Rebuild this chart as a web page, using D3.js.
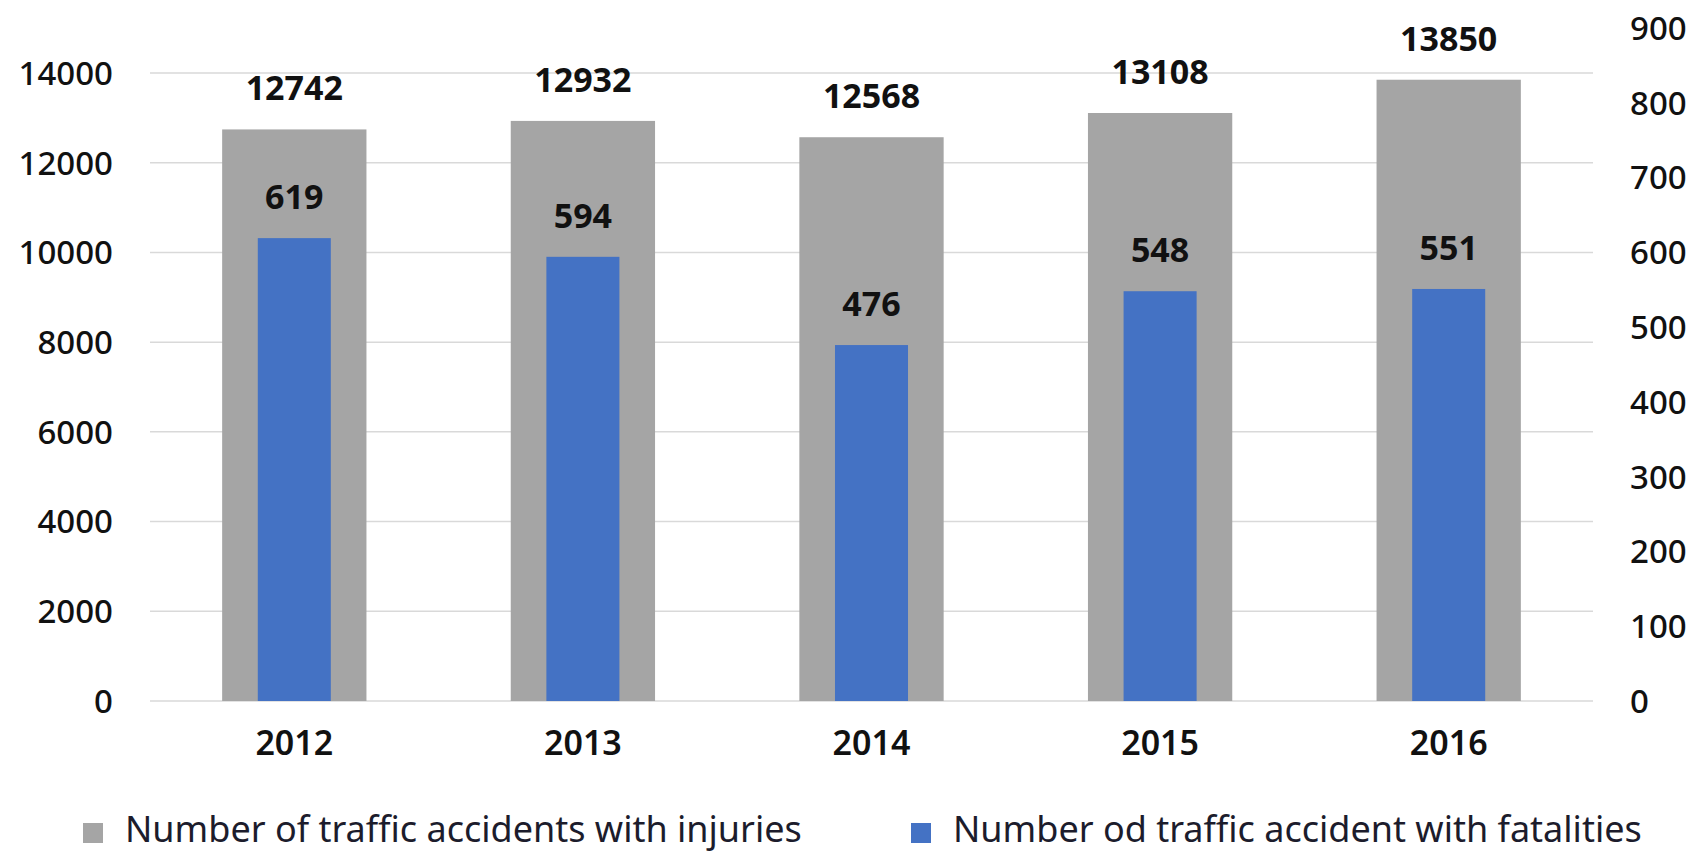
<!DOCTYPE html>
<html>
<head>
<meta charset="utf-8">
<script src="https://cdn.jsdelivr.net/npm/d3@7"></script>
<style>
  html, body { margin: 0; padding: 0; background: #fff; }
  svg { display: block; }
</style>
</head>
<body>
<svg id="chart" width="1695" height="853"></svg>
<script>
const years = ["2012", "2013", "2014", "2015", "2016"];
const injuries = [12742, 12932, 12568, 13108, 13850];
const fatalities = [619, 594, 476, 548, 551];
const leftTicks = [0, 2000, 4000, 6000, 8000, 10000, 12000, 14000];
const rightTicks = [0, 100, 200, 300, 400, 500, 600, 700, 800, 900];
const legendLabels = ["Number of traffic accidents with injuries", "Number od traffic accident with fatalities"];

const svg = d3.select("#chart");
const font = "'Noto Sans', 'Open Sans', sans-serif";

const x = d3.scaleBand().domain(years).range([150, 1593]).paddingInner(0).paddingOuter(0);
const yL = d3.scaleLinear().domain([0, 14000]).range([701, 73]);
const yR = d3.scaleLinear().domain([0, 900]).range([701, 28]);

// gridlines
svg.append("g").selectAll("line").data(leftTicks).join("line")
  .attr("x1", 150).attr("x2", 1593)
  .attr("y1", d => yL(d)).attr("y2", d => yL(d))
  .attr("stroke", "#d9d9d9").attr("stroke-width", 1.5);

// left axis labels
svg.append("g").selectAll("text").data(leftTicks).join("text")
  .attr("x", 113).attr("y", d => yL(d)).attr("dy", "0.36em")
  .attr("text-anchor", "end")
  .attr("font-family", font).attr("font-size", 33).attr("font-weight", 500)
  .attr("fill", "#111").text(d => d);

// right axis labels
svg.append("g").selectAll("text").data(rightTicks).join("text")
  .attr("x", 1630).attr("y", d => yR(d)).attr("dy", "0.36em")
  .attr("text-anchor", "start")
  .attr("font-family", font).attr("font-size", 33).attr("font-weight", 500)
  .attr("fill", "#111").text(d => d);

const grayW = x.bandwidth() * 0.5;
const blueW = x.bandwidth() * 0.253;

// gray bars
svg.append("g").selectAll("rect").data(years).join("rect")
  .attr("x", d => x(d) + x.bandwidth() / 2 - grayW / 2)
  .attr("width", grayW)
  .attr("y", (d, i) => yL(injuries[i]))
  .attr("height", (d, i) => yL(0) - yL(injuries[i]))
  .attr("fill", "#a5a5a5");

// blue bars
svg.append("g").selectAll("rect").data(years).join("rect")
  .attr("x", d => x(d) + x.bandwidth() / 2 - blueW / 2)
  .attr("width", blueW)
  .attr("y", (d, i) => yR(fatalities[i]))
  .attr("height", (d, i) => yR(0) - yR(fatalities[i]))
  .attr("fill", "#4472c4");

// data labels
svg.append("g").selectAll("text").data(years).join("text")
  .attr("x", d => x(d) + x.bandwidth() / 2)
  .attr("y", (d, i) => yL(injuries[i]) - 29)
  .attr("text-anchor", "middle")
  .attr("font-family", font).attr("font-size", 34).attr("font-weight", 700)
  .attr("fill", "#111").text((d, i) => injuries[i]);

svg.append("g").selectAll("text").data(years).join("text")
  .attr("x", d => x(d) + x.bandwidth() / 2)
  .attr("y", (d, i) => yR(fatalities[i]) - 29)
  .attr("text-anchor", "middle")
  .attr("font-family", font).attr("font-size", 34).attr("font-weight", 700)
  .attr("fill", "#111").text((d, i) => fatalities[i]);

// x labels
svg.append("g").selectAll("text").data(years).join("text")
  .attr("x", d => x(d) + x.bandwidth() / 2)
  .attr("y", 755)
  .attr("text-anchor", "middle")
  .attr("font-family", font).attr("font-size", 34).attr("font-weight", 600)
  .attr("fill", "#111").text(d => d);

// legend
const legendColors = ["#a5a5a5", "#4472c4"];
const legendX = [83, 911];
const lg = svg.append("g").selectAll("g").data(legendLabels).join("g");
lg.append("rect")
  .attr("x", (d, i) => legendX[i]).attr("y", 823)
  .attr("width", 20).attr("height", 20)
  .attr("fill", (d, i) => legendColors[i]);
lg.append("text")
  .attr("x", (d, i) => legendX[i] + 42).attr("y", 842)
  .attr("font-family", font).attr("font-size", 36)
  .attr("fill", "#1c1c2c").text(d => d);
</script>
</body>
</html>
